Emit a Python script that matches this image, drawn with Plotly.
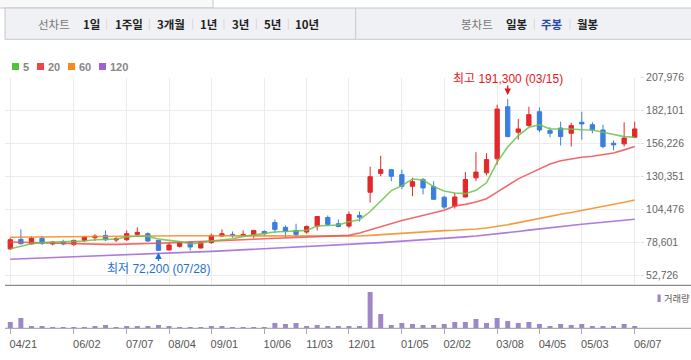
import plotly.graph_objects as go

# ---------------- data (weekly) ----------------
weeks = list(range(60))

opens = [73700, 81200, 77600, 82000, 77600, 79400, 77300, 80400, 82500, 84300,
         80700, 80900, 85100, 85600, 80400, 72900, 75700, 78900, 74400, 78600,
         83800, 85100, 84100, 84300, 87400, 94400, 90600, 88200, 86900, 91600,
         98300, 93400, 91600, 99900, 118100, 132900, 135800, 131900, 122800, 128000,
         122500, 114200, 107300, 114400, 129400, 133300, 144300, 185100, 165100, 170300,
         181200, 166400, 168400, 164300, 172900, 171000, 166900, 156500, 156000, 161200]
highs = [82500, 89000, 83500, 83800, 79900, 80900, 80900, 83800, 85100, 88200,
         83000, 88200, 90600, 86700, 80800, 78300, 79400, 79400, 79400, 85600,
         89000, 87400, 88200, 88500, 88200, 96800, 92100, 93400, 92100, 99300,
         99900, 96800, 103000, 103000, 138100, 146700, 135900, 135800, 129500, 129300,
         126700, 115300, 117700, 133900, 149500, 148700, 186700, 191300, 175500, 185100,
         184600, 169000, 173400, 172600, 181200, 172900, 171000, 158600, 172900, 173400]
lows = [73100, 77300, 77300, 76800, 76500, 76500, 76000, 79100, 79900, 79900,
        79100, 79900, 84300, 79100, 72200, 72600, 74700, 72400, 74200, 77800,
        83000, 82500, 83000, 82200, 84300, 86100, 82500, 83000, 85600, 88200,
        91600, 90600, 90000, 95200, 110000, 130600, 126700, 120400, 115000, 116500,
        112400, 104800, 105300, 114000, 126800, 131300, 139800, 161200, 159300, 169500,
        165100, 161200, 154700, 153900, 159300, 164300, 152600, 151000, 153900, 160600]
closes = [80900, 77800, 82000, 78100, 79100, 77600, 80400, 83000, 83800, 80900,
          81700, 85600, 86700, 79900, 72600, 76800, 78900, 75200, 78900, 84300,
          85600, 84300, 85100, 88200, 85600, 89000, 87400, 85100, 91300, 99100,
          92900, 91300, 100700, 98600, 130300, 135800, 130600, 122800, 126400, 121500,
          112600, 106500, 114400, 128100, 133900, 143700, 183300, 161700, 167700, 178900,
          166900, 164300, 161700, 170300, 171600, 166900, 153900, 155200, 160600, 167700]
volumes = [320000, 525000, 118000, 121000, 70000, 66000, 72000, 68000, 117000, 172000,
           69000, 120000, 118000, 123000, 170000, 119000, 71000, 67000, 70000, 122000,
           118000, 69000, 71000, 66000, 70000, 272000, 221000, 275000, 120000, 168000,
           119000, 116000, 121000, 118000, 1850000, 730000, 171000, 270000, 223000, 169000,
           173000, 220000, 325000, 322000, 478000, 274000, 530000, 372000, 268000, 324000,
           219000, 117000, 224000, 167000, 221000, 119000, 120000, 118000, 222000, 121000]

ma5 = [73900, 76000, 77800, 78600, 79100, 79400, 79600, 79900, 80900, 81200,
       81500, 83000, 83800, 83500, 81500, 80400, 79400, 77800, 78300, 79900,
       80900, 81700, 83500, 84800, 86100, 86900, 87400, 87700, 88200, 91600,
       91900, 92400, 95000, 96500, 103000, 111600, 119400, 123300, 128500, 127700,
       122500, 119000, 117500, 117000, 119600, 125500, 141700, 153500, 162500, 169000,
       171000, 167700, 167700, 167700, 167100, 166900, 165100, 163200, 161700, 161200]
ma20 = [79100, 78900, 78600, 78300, 78000, 77700, 77400, 77300, 77300, 77300,
        77300, 77400, 77500, 77800, 78100, 78400, 78700, 79000, 79300, 79700,
        80100, 80500, 80900, 81300, 81700, 82000, 82300, 82700, 83000, 83300,
        83600, 84000, 84300, 86100, 88700, 91200, 93600, 96000, 98000, 99900,
        102000, 104000, 107300, 108600, 110500, 113000, 118200, 123400, 128600, 132500,
        136400, 140300, 142800, 144300, 145500, 146300, 147600, 148900, 151300, 153900]
ma60 = [82800, 82900, 83000, 83100, 83200, 83300, 83500, 83600, 83600, 83700,
        83700, 83800, 83800, 83800, 83900, 83900, 84000, 84000, 84000, 83900,
        83800, 83800, 83700, 83700, 83600, 83600, 83600, 83600, 83500, 83500,
        83500, 83500, 83600, 83800, 84300, 84900, 85500, 86100, 86700, 87200,
        87600, 88000, 88300, 88700, 89300, 90100, 91200, 92700, 94300, 96000,
        97800, 99400, 100800, 102200, 103700, 105300, 106900, 108500, 110200, 112000]
ma120 = [65600, 65900, 66200, 66600, 66900, 67200, 67600, 67900, 68300, 68600,
         68900, 69300, 69600, 69900, 70200, 70500, 70800, 71100, 71500, 71800,
         72200, 72600, 73000, 73400, 73800, 74200, 74600, 75000, 75400, 75800,
         76200, 76600, 77000, 77500, 78000, 78600, 79200, 79700, 80300, 80900,
         81400, 81900, 82500, 83100, 83800, 84600, 85500, 86400, 87400, 88400,
         89400, 90300, 91200, 92100, 93000, 93800, 94600, 95400, 96200, 97000]

tick_idx = [0, 6, 11, 15, 19, 24, 28, 32, 37, 41, 46, 50, 54, 59]
tick_labels = ['04/21', '06/02', '07/07', '08/04', '09/01', '10/06', '11/03',
               '12/01', '01/05', '02/02', '03/08', '04/05', '05/03', '06/07']
y_ticks = [52726, 78601, 104476, 130351, 156226, 182101, 207976]
y_tick_labels = ['52,726', '78,601', '104,476', '130,351', '156,226', '182,101', '207,976']

ma_names = ['5', '20', '60', '120']
high_idx, high_text = 47, '최고 191,300 (03/15)'
low_idx, low_text = 14, '최저 72,200 (07/28)'

# ---------------- styling ----------------
W, H = 691, 360
def py(y):
    return 1 - y / H
def px(x):
    return x / W

RED = '#e2282b'
BLUE = '#3a7ee0'
VOLC = '#9d87c9'
MA_COLORS = ['#6cc24a', '#ef5050', '#f48a1e', '#a064d2']
LEG_COLORS = ['#55c13c', '#ee4545', '#f68a1e', '#9e60d2']
FONT = 'Liberation Sans, Arial, Noto Sans CJK KR, sans-serif'
KFONT = 'Noto Sans CJK KR, Liberation Sans, sans-serif'

fig = go.Figure()

for vals, col in zip([ma120, ma60, ma20, ma5], MA_COLORS[::-1]):
    fig.add_trace(go.Scatter(x=weeks, y=vals, mode='lines',
                             line=dict(color=col, width=1.6), opacity=0.85,
                             xaxis='x', yaxis='y', hoverinfo='skip', showlegend=False))

fig.add_trace(go.Candlestick(
    x=weeks, open=opens, high=highs, low=lows, close=closes,
    increasing=dict(line=dict(color=RED, width=1), fillcolor=RED),
    decreasing=dict(line=dict(color=BLUE, width=1), fillcolor=BLUE),
    whiskerwidth=0, xaxis='x', yaxis='y', hoverinfo='skip', showlegend=False))

fig.add_trace(go.Bar(x=weeks, y=volumes, marker=dict(color=VOLC, line=dict(width=0)),
                     width=0.47, xaxis='x2', yaxis='y2', hoverinfo='skip', showlegend=False))

XDOM = [px(5), px(640)]
fig.update_layout(
    template='none',
    width=W, height=H, autosize=False,
    margin=dict(l=0, r=0, t=0, b=0, pad=0, autoexpand=False),
    paper_bgcolor='white', plot_bgcolor='white',
    hovermode=False, showlegend=False,
    boxgap=0.42,
    font=dict(family=FONT, size=11, color='#555'),
    xaxis=dict(domain=XDOM, range=[-0.5, 59.5], tickvals=tick_idx, showticklabels=False,
               showgrid=True, gridcolor='#ececec', gridwidth=1, zeroline=False, automargin=False,
               showline=False, ticks='', rangeslider=dict(visible=False), anchor='y'),
    yaxis=dict(domain=[py(285.3), py(77.5)], range=[45200, 208000], side='right',
               tickvals=y_ticks, ticktext=y_tick_labels, showgrid=True, gridcolor='#ececec',
               zeroline=False, showline=False, ticks='outside', ticklen=3, tickcolor='#dddddd',
               automargin=False,
               tickfont=dict(size=10.5, color='#666', family=FONT), anchor='x'),
    xaxis2=dict(domain=XDOM, range=[-0.5, 59.5], tickvals=tick_idx, ticktext=tick_labels,
                ticks='outside', ticklen=5, tickcolor='#aaaaaa', showgrid=False, zeroline=False,
                showline=False, ticklabelshift=13, automargin=False,
                tickfont=dict(size=11, color='#555', family=FONT), anchor='y2'),
    yaxis2=dict(domain=[py(328.3), py(285.3)], range=[0, 2193000], visible=False,
                automargin=False, anchor='x2'),
)

shapes = []
annots = []

# toolbar
shapes.append(dict(type='rect', xref='paper', yref='paper', x0=px(-2), x1=px(213), y0=py(8), y1=py(-2),
                   fillcolor='#f8f8f8', line=dict(color='#c9c9c9', width=1), layer='above'))
shapes.append(dict(type='rect', xref='paper', yref='paper', x0=px(5), x1=px(693), y0=py(39.3), y1=py(8),
                   fillcolor='#f0f1f5', line=dict(color='#c6c8cc', width=1), layer='above'))
shapes.append(dict(type='line', xref='paper', yref='paper', x0=px(355.7), x1=px(355.7), y0=py(39.3), y1=py(8),
                   line=dict(color='#c6c8cc', width=1), layer='above'))
for sx in [106.7, 149.3, 192.7, 224, 256.3, 288.3, 534.3, 570]:
    shapes.append(dict(type='line', xref='paper', yref='paper', x0=px(sx), x1=px(sx), y0=py(29.5), y1=py(19),
                       line=dict(color='#d8d8d8', width=1), layer='above'))
toolbar = [('선차트', 53.5, '#777', False), ('1일', 91.3, '#222', True), ('1주일', 128.7, '#222', True),
           ('3개월', 170.8, '#222', True), ('1년', 208, '#222', True), ('3년', 240, '#222', True),
           ('5년', 272, '#222', True), ('10년', 307, '#222', True),
           ('봉차트', 476.7, '#777', False), ('일봉', 516.7, '#222', True), ('주봉', 552.3, '#2548a8', True),
           ('월봉', 588.3, '#222', True)]
for t, cx, col, bold in toolbar:
    annots.append(dict(xref='paper', yref='paper', x=px(cx), y=py(24), text=('<b>%s</b>' % t) if bold else t,
                       showarrow=False, xanchor='center', yanchor='middle',
                       font=dict(family=KFONT, size=11.5, color=col)))

# MA legend
leg_pos = [(12, 21), (37, 46), (68, 77), (99, 108)]
for (sx, tx), col, name in zip(leg_pos, LEG_COLORS, ma_names):
    shapes.append(dict(type='rect', xref='paper', yref='paper', x0=px(sx), x1=px(sx + 7), y0=py(70), y1=py(63),
                       fillcolor=col, line=dict(width=0)))
    annots.append(dict(xref='paper', yref='paper', x=px(tx), y=py(66.5), text='<b>%s</b>' % name,
                       showarrow=False, xanchor='left', yanchor='middle',
                       font=dict(family=FONT, size=11, color='#888')))

# panel separator & volume baseline
shapes.append(dict(type='line', xref='paper', yref='paper', x0=px(5), x1=px(691), y0=py(285.3), y1=py(285.3),
                   line=dict(color='#8a8a8a', width=1.2)))
shapes.append(dict(type='line', xref='paper', yref='paper', x0=px(5), x1=px(691), y0=py(328.3), y1=py(328.3),
                   line=dict(color='#9a9a9a', width=1)))

# volume legend
shapes.append(dict(type='rect', xref='paper', yref='paper', x0=px(657.5), x1=px(660.7), y0=py(302), y1=py(294.5),
                   fillcolor=VOLC, line=dict(width=0)))
annots.append(dict(xref='paper', yref='paper', x=px(661.5), y=py(298.3), text='거래량', showarrow=False,
                   xanchor='left', yanchor='middle', font=dict(family=KFONT, size=9.3, color='#555')))

# high / low markers
annots.append(dict(xref='x', yref='paper', x=high_idx, y=py(79), text=high_text, showarrow=False,
                   xanchor='center', yanchor='middle', font=dict(family=FONT, size=12, color='#e8161d')))
annots.append(dict(xref='x', yref='paper', x=high_idx, y=py(95), text='', showarrow=True,
                   ax=0, ay=-11, arrowhead=2, arrowsize=1, arrowwidth=1.3, arrowcolor='#e8161d'))
annots.append(dict(xref='x', yref='paper', x=low_idx, y=py(269), text=low_text, showarrow=False,
                   xanchor='center', yanchor='middle', font=dict(family=FONT, size=12, color='#1f6fd6')))
annots.append(dict(xref='x', yref='paper', x=low_idx, y=py(252.5), text='', showarrow=True,
                   ax=0, ay=10, arrowhead=2, arrowsize=1, arrowwidth=1.3, arrowcolor='#1f6fd6'))

fig.update_layout(shapes=shapes, annotations=annots)

# place the 691x360 figure at the page origin (no default body margin / scrollbars)
post = ("document.documentElement.style.margin='0';document.documentElement.style.overflow='hidden';"
        "document.body.style.margin='0';document.body.style.padding='0';document.body.style.overflow='hidden';"
        "var d=document.getElementById('{plot_id}');d.style.position='absolute';"
        "d.style.left='0px';d.style.top='0px';")
fig.write_html('out.html', post_script=post,
               config={'displayModeBar': False, 'staticPlot': True, 'responsive': False})
